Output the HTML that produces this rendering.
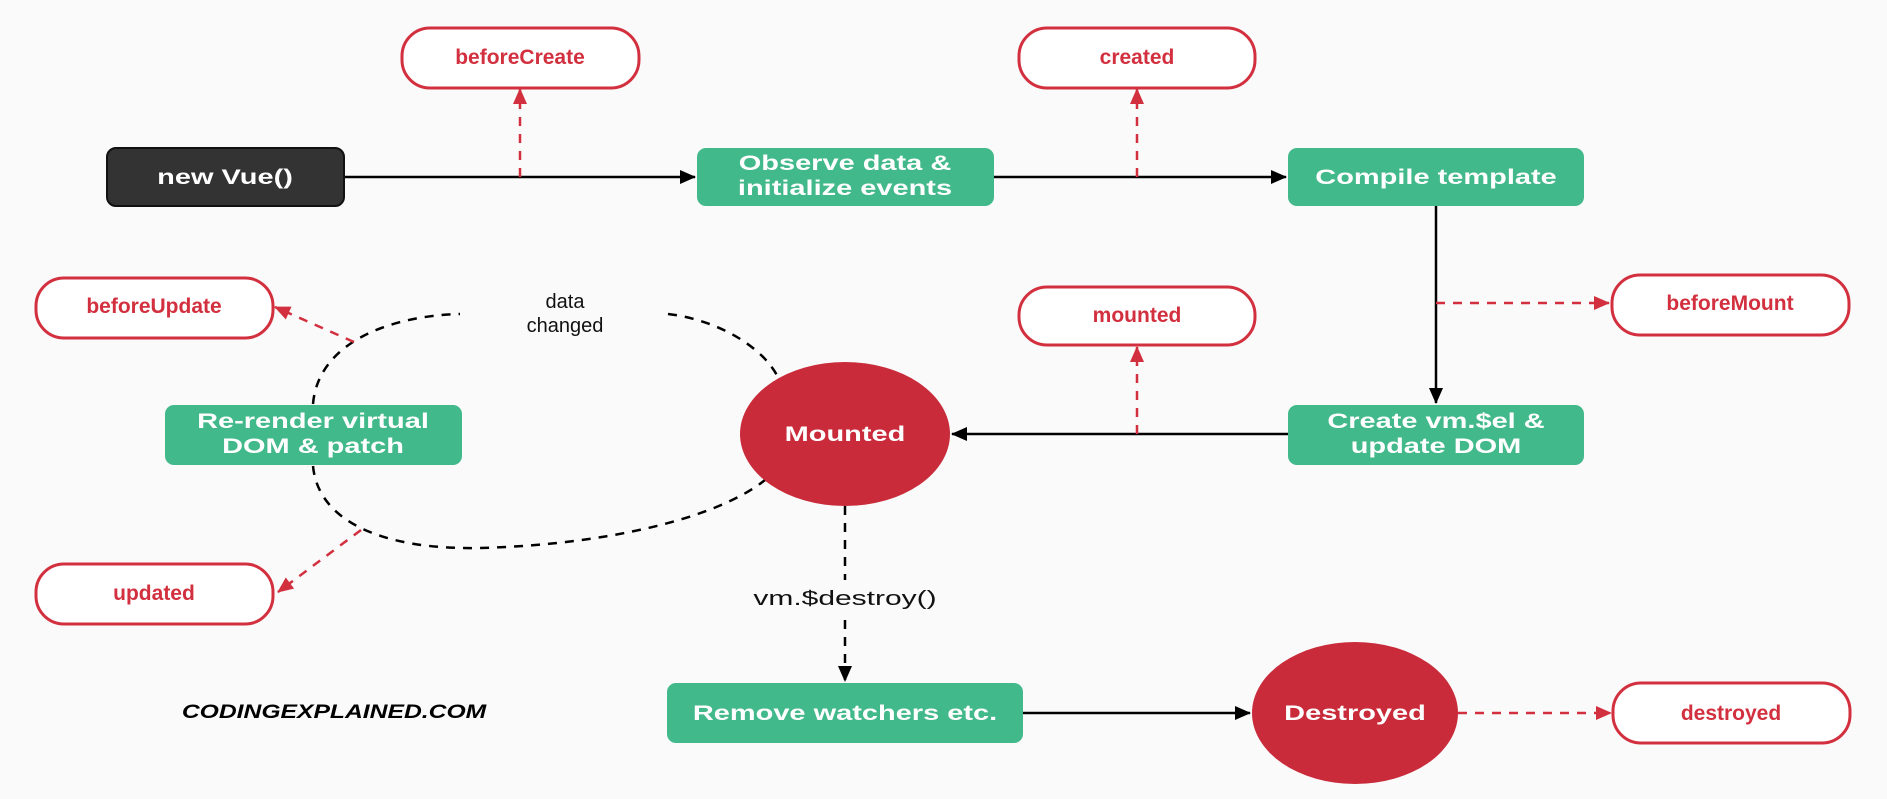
<!DOCTYPE html>
<html><head><meta charset="utf-8"><style>
html,body{margin:0;padding:0;background:#fafafa;}
svg{display:block;}
text{font-family:"Liberation Sans",Arial,sans-serif;}
.w{fill:#fff;font-weight:bold;font-size:21px;text-anchor:middle;}
.r{fill:#d3303f;font-weight:bold;font-size:21px;text-anchor:middle;}
.k{fill:#111;font-size:20px;text-anchor:middle;}
</style></head><body>
<svg width="1887" height="799" viewBox="0 0 1887 799" xmlns="http://www.w3.org/2000/svg">
<defs>
<marker id="ab" markerWidth="16" markerHeight="14" refX="15" refY="7" orient="auto" markerUnits="userSpaceOnUse" viewBox="0 0 16 14"><path d="M0,0 L16,7 L0,14 z" fill="#000"/></marker>
<marker id="ar" markerWidth="16" markerHeight="14" refX="15" refY="7" orient="auto" markerUnits="userSpaceOnUse" viewBox="0 0 16 14"><path d="M0,0 L16,7 L0,14 z" fill="#d3303f"/></marker>
</defs>
<rect width="1887" height="799" fill="#fafafa"/>

<g stroke="#000" stroke-width="2.5" fill="none">
<line x1="344" y1="177" x2="695" y2="177" marker-end="url(#ab)"/>
<line x1="994" y1="177" x2="1286" y2="177" marker-end="url(#ab)"/>
<line x1="1436" y1="206" x2="1436" y2="403" marker-end="url(#ab)"/>
<line x1="1288" y1="434" x2="952" y2="434" marker-end="url(#ab)"/>
<line x1="1023" y1="713" x2="1250" y2="713" marker-end="url(#ab)"/>
</g>
<g stroke="#000" stroke-width="2.5" fill="none" stroke-dasharray="9,8">
<line x1="845" y1="506" x2="845" y2="580"/>
<line x1="845" y1="620" x2="845" y2="681" marker-end="url(#ab)"/>
<path d="M313 404 C318 345 385 316 460 314"/>
<path d="M668 314 C720 320 768 350 780 382"/>
<path d="M313 466 C318 520 380 550 480 548 C600 545 715 520 765 480"/>
</g>
<g stroke="#d3303f" stroke-width="2.5" fill="none" stroke-dasharray="9,8">
<line x1="520" y1="177" x2="520" y2="89" marker-end="url(#ar)"/>
<line x1="1137" y1="177" x2="1137" y2="89" marker-end="url(#ar)"/>
<line x1="1137" y1="434" x2="1137" y2="347" marker-end="url(#ar)"/>
<line x1="1436" y1="303" x2="1609" y2="303" marker-end="url(#ar)"/>
<line x1="1458" y1="713" x2="1611" y2="713" marker-end="url(#ar)"/>
<line x1="354" y1="342" x2="275" y2="307" marker-end="url(#ar)"/>
<line x1="361" y1="530" x2="278" y2="592" marker-end="url(#ar)"/>
</g>

<rect x="107" y="148" width="237" height="58" rx="9" fill="#333" stroke="#111" stroke-width="2"/>
<text class="w" transform="translate(225 184) scale(1.38 1)">new Vue()</text>

<rect x="697" y="148" width="297" height="58" rx="9" fill="#42b98a"/>
<text class="w" transform="translate(845 170) scale(1.38 1)">Observe data &amp;</text>
<text class="w" transform="translate(845 195) scale(1.38 1)">initialize events</text>

<rect x="1288" y="148" width="296" height="58" rx="9" fill="#42b98a"/>
<text class="w" transform="translate(1436 184) scale(1.38 1)">Compile template</text>

<rect x="1288" y="405" width="296" height="60" rx="9" fill="#42b98a"/>
<text class="w" transform="translate(1436 428) scale(1.38 1)">Create vm.$el &amp;</text>
<text class="w" transform="translate(1436 453) scale(1.38 1)">update DOM</text>

<rect x="165" y="405" width="297" height="60" rx="9" fill="#42b98a"/>
<text class="w" transform="translate(313 428) scale(1.38 1)">Re-render virtual</text>
<text class="w" transform="translate(313 453) scale(1.38 1)">DOM &amp; patch</text>

<rect x="667" y="683" width="356" height="60" rx="9" fill="#42b98a"/>
<text class="w" transform="translate(845 720) scale(1.38 1)">Remove watchers etc.</text>

<ellipse cx="845" cy="434" rx="105" ry="72" fill="#c92b3a"/>
<text class="w" transform="translate(845 441) scale(1.38 1)">Mounted</text>
<ellipse cx="1355" cy="713" rx="103" ry="71" fill="#c92b3a"/>
<text class="w" transform="translate(1355 720) scale(1.38 1)">Destroyed</text>

<g fill="#fff" stroke="#d3303f" stroke-width="3">
<rect x="402" y="28" width="237" height="60" rx="28"/>
<rect x="1019" y="28" width="236" height="60" rx="28"/>
<rect x="1612" y="275" width="237" height="60" rx="28"/>
<rect x="1019" y="287" width="236" height="58" rx="28"/>
<rect x="36" y="278" width="237" height="60" rx="28"/>
<rect x="36" y="564" width="237" height="60" rx="28"/>
<rect x="1613" y="683" width="237" height="60" rx="28"/>
</g>
<text class="r" x="520" y="64">beforeCreate</text>
<text class="r" x="1137" y="64">created</text>
<text class="r" x="1730" y="310">beforeMount</text>
<text class="r" x="1137" y="322">mounted</text>
<text class="r" x="154" y="313">beforeUpdate</text>
<text class="r" x="154" y="600">updated</text>
<text class="r" x="1731" y="720">destroyed</text>

<text class="k" x="565" y="308">data</text>
<text class="k" x="565" y="332">changed</text>
<text class="k" transform="translate(845 605) scale(1.5 1)">vm.$destroy()</text>

<text transform="translate(334 718) scale(1.3 1)" style="font-weight:bold;font-style:italic;font-size:19px;text-anchor:middle;fill:#000;">CODINGEXPLAINED.COM</text>
</svg>
</body></html>
